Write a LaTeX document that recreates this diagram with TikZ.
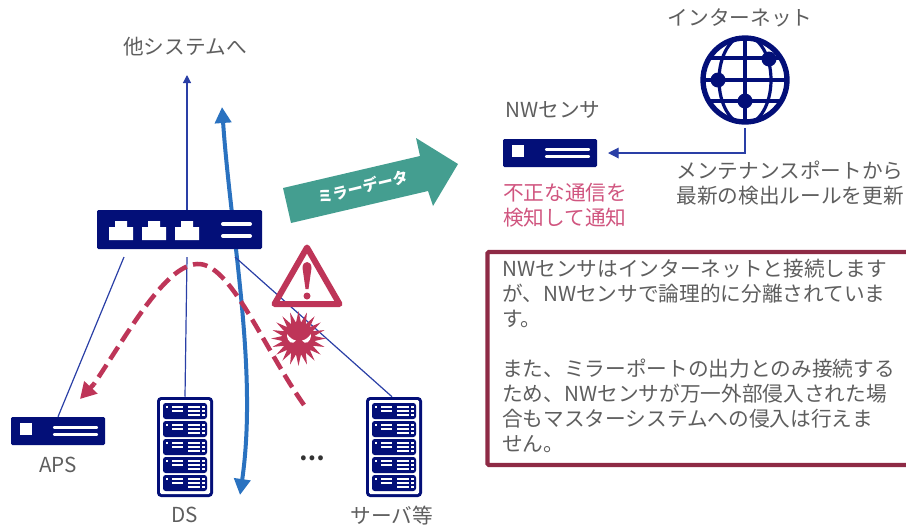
\documentclass[tikz,border=0pt]{standalone}
\usepackage{fontspec}
\setmainfont{Noto Sans CJK JP}
\usepackage{xcolor}
\usetikzlibrary{calc, positioning, arrows.meta, shapes.geometric}

\definecolor{devblue}{HTML}{030F78}
\definecolor{linkblue}{HTML}{2A3FA6}
\definecolor{flowblue}{HTML}{2A72C0}
\definecolor{alertred}{HTML}{BE3558}
\definecolor{notered}{HTML}{8E2A45}
\definecolor{mirrorgreen}{HTML}{449E90}
\definecolor{labelgray}{HTML}{5E5E5E}
\definecolor{pinktext}{HTML}{D0557F}

\tikzset{
    textlabel/.style={font=\fontsize{15.5pt}{18.75pt}\selectfont, text=labelgray, inner sep=0pt, align=center},
    devbox/.style={fill=devblue, rounded corners=1pt, inner sep=0pt},
    link/.style={draw=linkblue, line width=0.9pt},
    flow/.style={draw=flowblue, line width=3pt, {Triangle[width=12pt,length=12pt]}-{Triangle[width=12pt,length=12pt]}},
    sensorpic/.pic={
        \fill[white] (-38,-8) rectangle (-26,4);
        \draw[white, line width=1.7pt, line cap=round] (-4,-3.5) -- (39,-3.5) (-4,3.5) -- (39,3.5);
    },
    rackpic/.pic={
        \fill[white, rounded corners=1pt] (-25,-47) rectangle (25,47);
        \foreach \u in {-36,-18,0,18,36} {
            \fill[devblue, rounded corners=2pt] (-22,\u-8) rectangle (22,\u+8);
            \fill[white] (-19,\u-5) rectangle (-17,\u-3);
            \draw[white, line width=1pt] (-13,\u-4) -- (-2,\u-4) (-13,\u) -- (-2,\u);
            \draw[white, line width=1pt] (3,\u-4) -- (15,\u-4) (3,\u) -- (15,\u) (3,\u+4) -- (15,\u+4);
            \foreach \d in {-4,0,4} {
                \fill[white] (17,\u+\d-1) rectangle (19.5,\u+\d+1);
            }
        }
    }
}

\begin{document}
\begin{tikzpicture}[x=0.75pt, y=-0.75pt]
    \useasboundingbox (0,0) rectangle (906,526);

    % Free ends of the links
    \coordinate (upend) at (187,75);
    \coordinate (apsend) at (124,257);
    \coordinate (dsend) at (187,257);
    \coordinate (srvend) at (235,257);
    \coordinate (netend) at (745,128);
    \coordinate (nwend) at (608,153);
    \coordinate (netbend) at (745,153);

    % Mirror flow runs behind the switch
    \coordinate (flowtop) at (222,107);
    \coordinate (flowbot) at (240,495);
    \draw[flow] (flowtop) .. controls (231,235) and (258,370) .. (flowbot);

    % Devices
    \node[devbox, minimum width=123.75pt, minimum height=29.25pt] (sw) at (179.5,229.5) {};
    \node[devbox, minimum width=70.5pt, minimum height=21pt] (aps) at (58,431) {};
    \node[devbox, minimum width=70.5pt, minimum height=21pt] (nws) at (550,153) {};
    \node[devbox, rounded corners=3pt, minimum width=42pt, minimum height=75pt] (ds) at (185,447) {};
    \node[devbox, rounded corners=3pt, minimum width=42pt, minimum height=75pt] (srv) at (394,447) {};

    % Links
    \draw[link, -{Triangle[width=6pt,length=6pt]}] (sw.north -| upend) -- (upend);
    \draw[link] (apsend) -- (aps.north);
    \draw[link] (dsend) -- (ds.north);
    \draw[link] (srvend) -- ($(srv.north)+(-2,0)$);
    \draw[link, -{Triangle[width=8pt,length=8pt]}] (netend) -- (netbend) -- (nwend);

    % Switch ports
    \foreach \p in {121,154,187} {
        \fill[white] (\p-12,240) -- (\p-12,227) -- (\p-6,227) -- (\p-6,221) -- (\p+6,221) -- (\p+6,227) -- (\p+12,227) -- (\p+12,240) -- cycle;
    }
    \draw[white, line width=3pt, line cap=round] (223,224) -- (250,224) (223,236) -- (250,236);

    \path (aps) pic {sensorpic};
    \path (nws) pic {sensorpic};
    \path (ds) pic {rackpic};
    \path (srv) pic {rackpic};

    % Intrusion path
    \coordinate (intrstart) at (304,405);
    \coordinate (intrtip) at (80,399);
    \draw[alertred, line width=3.4pt, dash pattern=on 11pt off 5pt] (intrstart) .. controls (262,345) and (230,262) .. (197,264) .. controls (165,266) and (130,330) .. (94,384);
    \draw[alertred, line width=3.4pt, -{Triangle[width=13pt,length=12pt]}] (94,384) -- (intrtip);

    % Warning sign
    \draw[alertred, line width=4.5pt, line join=round] (307,247.5) -- (339.5,304) -- (274.5,304) -- cycle;
    \fill[alertred] (302.5,268) .. controls (302.5,260) and (311.5,260) .. (311.5,268) -- (308.5,289) -- (305.5,289) -- cycle;
    \fill[alertred] (307,296) circle (3.5);

    % Virus
    \node[star, star points=20, star point ratio=1.7, fill=alertred, minimum size=41pt, inner sep=0pt] (virus) at (298.5,338.5) {};
    \fill[white] (287,334) .. controls (290,338) and (293,340) .. (296,340.5) .. controls (293,345) and (287,343) .. cycle;
    \fill[white] (311,334) .. controls (308,338) and (305,340) .. (302,340.5) .. controls (305,345) and (311,343) .. cycle;

    % Mirror arrow
    \fill[mirrorgreen] (283,188) -- (420,156) -- (416,138) -- (458,164) -- (433,206) -- (428,191) -- (291,223) -- cycle;
    \node[font=\bfseries\fontsize{11.5pt}{12pt}\selectfont, text=white, rotate=13.5, inner sep=0pt] (mirror) at (363,187) {ミラーデータ};

    % Globe
    \coordinate (net) at (745,80);
    \begin{scope}
        \clip (net) circle (43);
        \draw[devblue, line width=2.4pt] (net) ellipse (26 and 44);
        \draw[devblue, line width=2.4pt] (701,58) -- (789,58) (701,80) -- (789,80) (701,101) -- (789,101) (745,36) -- (745,124);
    \end{scope}
    \draw[devblue, line width=4pt] (net) circle (42);
    \fill[devblue] (769,59) circle (7.5);
    \fill[devblue] (718,80) circle (7.5);
    \fill[devblue] (745,101) circle (7.5);

    % Note box, runs off the right edge
    \draw[notered, line width=3.2pt, rounded corners=1pt] (930,252) -- (487.5,252) -- (487.5,465) -- (930,465);

    % Labels
    \node[textlabel] (othersys) at (185,47) {他システムへ};
    \node[textlabel] (netlabel) at (740,18) {インターネット};
    \node[textlabel] (nwlabel) at (553,110) {NWセンサ};
    \node[textlabel, text=pinktext, align=left, anchor=north west] (detect) at (503,183) {不正な通信を\\検知して通知};
    \node[textlabel, align=center] (maint) at (790,183.5) {メンテナンスポートから\\最新の検出ルールを更新};
    \node[textlabel] (apslabel) at (58,465) {APS};
    \node[textlabel] (dslabel) at (185,515) {DS};
    \node[textlabel] (srvlabel) at (392,516) {サーバ等};
    \node[textlabel, text=black!80, font=\bfseries\fontsize{17pt}{20pt}\selectfont] (dots) at (312,458) {…};
    \node[textlabel, align=left, anchor=north west] (note) at (502,259) {NWセンサはインターネットと接続します\\が、NWセンサで論理的に分離されていま\\す。\\[18.75pt]また、ミラーポートの出力とのみ接続する\\ため、NWセンサが万一外部侵入された場\\合もマスターシステムへの侵入は行えま\\せん。};
\end{tikzpicture}
\end{document}
